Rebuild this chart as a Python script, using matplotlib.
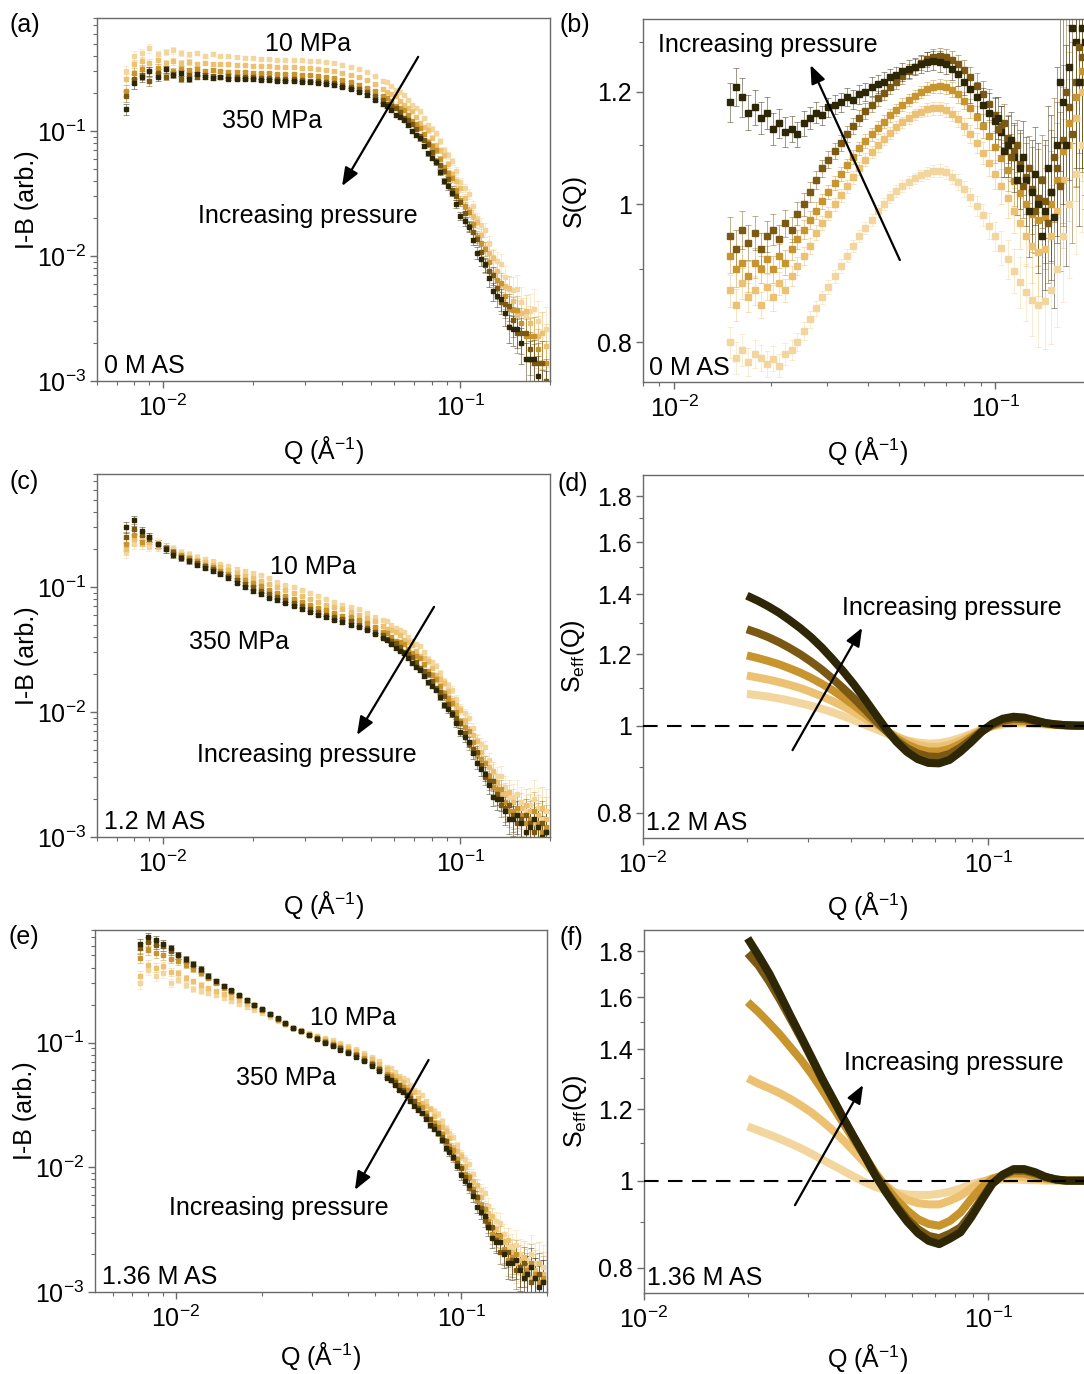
import numpy as np
import matplotlib
matplotlib.use("Agg")
import matplotlib.pyplot as plt
from matplotlib.colors import to_rgba
from matplotlib.ticker import (LogLocator, NullFormatter, FixedLocator,
                               FixedFormatter)

plt.rcParams['font.family'] = ['Liberation Sans', 'DejaVu Sans']
plt.rcParams['mathtext.fontset'] = 'custom'
plt.rcParams['mathtext.rm'] = 'Liberation Sans'
plt.rcParams['mathtext.it'] = 'Liberation Sans:italic'
plt.rcParams['mathtext.bf'] = 'Liberation Sans:bold'
plt.rcParams['mathtext.default'] = 'regular'

# ---------------- data ----------------
pressures = [10, 100, 200, 300, 350]          # MPa, light -> dark
colors = ['#F2D69E', '#ECC172', '#C8942E', '#7B5913', '#2E2706']

# SANS I-B(Q): main Q grid + extra high-Q points
q_sans = [0.0075, 0.0080, 0.0085, 0.0090, 0.0096, 0.0102, 0.0108, 0.0115, 0.0122, 0.0130,
          0.0138, 0.0147, 0.0156, 0.0166, 0.0177, 0.0188, 0.0200, 0.0213, 0.0227, 0.0242,
          0.0258, 0.0275, 0.0293, 0.0312, 0.0332, 0.0354, 0.0377, 0.0401, 0.0427, 0.0455,
          0.0485, 0.0516, 0.0550, 0.0586, 0.0624, 0.0664, 0.0707, 0.0753, 0.0802, 0.0854,
          0.0910, 0.0969, 0.1032, 0.1099, 0.1170, 0.1246, 0.1327, 0.1413, 0.1505, 0.1603,
          0.1707, 0.1818, 0.1936]
rel_err_sans = [0.10, 0.09, 0.08, 0.08, 0.07, 0.06, 0.06, 0.05, 0.05, 0.04,
                0.04, 0.035, 0.03, 0.03, 0.03, 0.025, 0.025, 0.025, 0.02, 0.02,
                0.02, 0.02, 0.02, 0.02, 0.02, 0.02, 0.02, 0.02, 0.02, 0.02,
                0.02, 0.02, 0.025, 0.025, 0.03, 0.03, 0.035, 0.04, 0.045, 0.05,
                0.06, 0.07, 0.08, 0.10, 0.12, 0.15, 0.18, 0.22, 0.27, 0.32,
                0.38, 0.45, 0.50]
q_sans_hi = [0.0568, 0.0605, 0.0644, 0.0685, 0.0730, 0.0777, 0.0828, 0.0882, 0.0939, 0.1000,
             0.1065, 0.1134, 0.1208, 0.1286, 0.1370, 0.1459, 0.1554, 0.1655, 0.1762, 0.1877]
rel_err_hi = [0.025, 0.028, 0.03, 0.033, 0.037, 0.042, 0.048, 0.055, 0.065, 0.075,
              0.09, 0.11, 0.13, 0.16, 0.20, 0.25, 0.30, 0.35, 0.42, 0.48]

# 0 M AS
iq_0M = [
    [0.30, 0.40, 0.42, 0.46, 0.41, 0.43, 0.44, 0.42, 0.41, 0.42,
     0.40, 0.41, 0.40, 0.395, 0.39, 0.385, 0.38, 0.378, 0.375, 0.372,
     0.370, 0.368, 0.366, 0.364, 0.360, 0.355, 0.348, 0.338, 0.326, 0.311,
     0.294, 0.275, 0.253, 0.229, 0.204, 0.178, 0.152, 0.127, 0.104, 0.083,
     0.064, 0.048, 0.035, 0.025, 0.0178, 0.0126, 0.0091, 0.0068, 0.0053, 0.0043,
     0.0036, 0.0030, 0.0026],
    [0.26, 0.34, 0.36, 0.35, 0.37, 0.35, 0.36, 0.35, 0.355, 0.345,
     0.35, 0.345, 0.34, 0.34, 0.337, 0.335, 0.333, 0.331, 0.329, 0.327,
     0.325, 0.323, 0.321, 0.318, 0.314, 0.309, 0.302, 0.293, 0.282, 0.269,
     0.254, 0.237, 0.218, 0.197, 0.175, 0.152, 0.130, 0.108, 0.088, 0.070,
     0.054, 0.040, 0.029, 0.021, 0.0148, 0.0105, 0.0076, 0.0057, 0.0044, 0.0035,
     0.0029, 0.0023, 0.0019],
    [0.21, 0.29, 0.31, 0.30, 0.32, 0.31, 0.30, 0.315, 0.305, 0.31,
     0.30, 0.305, 0.30, 0.298, 0.296, 0.295, 0.293, 0.291, 0.289, 0.287,
     0.285, 0.283, 0.281, 0.278, 0.275, 0.270, 0.264, 0.256, 0.246, 0.235,
     0.222, 0.207, 0.190, 0.172, 0.153, 0.133, 0.113, 0.094, 0.076, 0.060,
     0.046, 0.034, 0.025, 0.018, 0.0126, 0.0089, 0.0064, 0.0048, 0.0037, 0.0029,
     0.0023, 0.0018, 0.0014],
    [0.19, 0.26, 0.28, 0.25, 0.29, 0.27, 0.285, 0.26, 0.28, 0.27,
     0.28, 0.275, 0.272, 0.275, 0.27, 0.27, 0.268, 0.266, 0.264, 0.262,
     0.260, 0.258, 0.256, 0.253, 0.250, 0.246, 0.241, 0.234, 0.226, 0.216,
     0.204, 0.191, 0.176, 0.159, 0.141, 0.122, 0.103, 0.085, 0.068, 0.053,
     0.041, 0.030, 0.022, 0.0155, 0.0108, 0.0076, 0.0055, 0.0041, 0.0031, 0.0024,
     0.0018, 0.0014, 0.0010],
    [0.15, 0.24, 0.27, 0.30, 0.27, 0.31, 0.28, 0.29, 0.26, 0.285,
     0.27, 0.265, 0.268, 0.262, 0.262, 0.26, 0.258, 0.256, 0.255, 0.253,
     0.251, 0.249, 0.247, 0.244, 0.241, 0.237, 0.231, 0.224, 0.215, 0.204,
     0.192, 0.178, 0.163, 0.146, 0.129, 0.111, 0.093, 0.076, 0.061, 0.047,
     0.036, 0.026, 0.019, 0.0135, 0.0095, 0.0067, 0.0048, 0.0035, 0.0026, 0.0020,
     0.0015, 0.0011, 0.0008],
]
iq_0M_hi = [
    [0.245, 0.212, 0.195, 0.162, 0.143, 0.112, 0.096, 0.071, 0.057, 0.039,
     0.0314, 0.0198, 0.0162, 0.0098, 0.0087, 0.0054, 0.0054, 0.0034, 0.0038, 0.0024],
    [0.203, 0.190, 0.160, 0.144, 0.115, 0.101, 0.077, 0.064, 0.045, 0.035,
     0.0235, 0.0187, 0.0115, 0.0096, 0.0059, 0.0055, 0.0034, 0.0036, 0.0023, 0.0024],
    [0.185, 0.159, 0.146, 0.121, 0.106, 0.082, 0.070, 0.051, 0.042, 0.028,
     0.0225, 0.0142, 0.0114, 0.0070, 0.0061, 0.0038, 0.0037, 0.0023, 0.0023, 0.0014],
    [0.164, 0.153, 0.128, 0.114, 0.091, 0.078, 0.058, 0.048, 0.034, 0.027,
     0.0174, 0.0137, 0.0084, 0.0070, 0.0043, 0.0040, 0.0024, 0.0024, 0.0014, 0.0014],
    [0.157, 0.134, 0.122, 0.100, 0.087, 0.066, 0.056, 0.040, 0.032, 0.021,
     0.0170, 0.0106, 0.0086, 0.0052, 0.0045, 0.0027, 0.0026, 0.0015, 0.0015, 0.00083],
]

# 1.2 M AS
iq_12M = [
    [0.19, 0.22, 0.24, 0.21, 0.23, 0.20, 0.205, 0.19, 0.185, 0.175,
     0.168, 0.160, 0.152, 0.146, 0.140, 0.135, 0.130, 0.124, 0.117, 0.110,
     0.104, 0.099, 0.094, 0.089, 0.084, 0.080, 0.076, 0.072, 0.069, 0.066,
     0.062, 0.058, 0.054, 0.050, 0.045, 0.040, 0.035, 0.030, 0.025, 0.0205,
     0.0165, 0.0128, 0.0098, 0.0074, 0.0055, 0.0041, 0.0031, 0.0025, 0.0021, 0.0019,
     0.0018, 0.0017, 0.0016],
    [0.20, 0.24, 0.22, 0.23, 0.21, 0.20, 0.19, 0.18, 0.172, 0.165,
     0.157, 0.150, 0.143, 0.136, 0.129, 0.123, 0.117, 0.111, 0.105, 0.099,
     0.094, 0.089, 0.085, 0.080, 0.076, 0.072, 0.069, 0.066, 0.063, 0.060,
     0.056, 0.053, 0.049, 0.045, 0.041, 0.036, 0.031, 0.027, 0.0225, 0.0183,
     0.0147, 0.0114, 0.0087, 0.0065, 0.0048, 0.0036, 0.0027, 0.0022, 0.0019, 0.0017,
     0.0016, 0.0015, 0.0014],
    [0.22, 0.26, 0.23, 0.25, 0.22, 0.21, 0.195, 0.18, 0.17, 0.16,
     0.151, 0.143, 0.135, 0.128, 0.120, 0.113, 0.107, 0.101, 0.095, 0.090,
     0.085, 0.080, 0.076, 0.072, 0.068, 0.065, 0.062, 0.059, 0.057, 0.054,
     0.051, 0.048, 0.044, 0.040, 0.036, 0.032, 0.028, 0.024, 0.0198, 0.0161,
     0.0129, 0.0100, 0.0076, 0.0057, 0.0042, 0.0031, 0.0024, 0.0019, 0.0016, 0.0015,
     0.0014, 0.0013, 0.0012],
    [0.25, 0.29, 0.26, 0.24, 0.22, 0.205, 0.19, 0.175, 0.165, 0.155,
     0.146, 0.138, 0.130, 0.122, 0.114, 0.106, 0.099, 0.093, 0.088, 0.083,
     0.078, 0.074, 0.070, 0.066, 0.063, 0.060, 0.057, 0.055, 0.053, 0.050,
     0.047, 0.044, 0.041, 0.037, 0.033, 0.029, 0.025, 0.0212, 0.0176, 0.0144,
     0.0115, 0.0089, 0.0068, 0.0051, 0.0038, 0.0028, 0.0022, 0.0017, 0.0015, 0.0014,
     0.0013, 0.0012, 0.0011],
    [0.30, 0.34, 0.28, 0.25, 0.22, 0.20, 0.18, 0.17, 0.16, 0.150,
     0.142, 0.134, 0.127, 0.118, 0.108, 0.099, 0.092, 0.087, 0.082, 0.078,
     0.074, 0.070, 0.066, 0.063, 0.060, 0.057, 0.054, 0.052, 0.050, 0.048,
     0.045, 0.042, 0.039, 0.035, 0.031, 0.027, 0.023, 0.0195, 0.0162, 0.0132,
     0.0105, 0.0082, 0.0063, 0.0047, 0.0035, 0.0026, 0.0020, 0.0016, 0.0014, 0.0013,
     0.0012, 0.0012, 0.0011],
]
iq_12M_hi = [
    [0.053, 0.0466, 0.0434, 0.0368, 0.0335, 0.0267, 0.0234, 0.0178, 0.0151, 0.0108,
     0.0090, 0.0060, 0.0052, 0.0033, 0.0031, 0.0021, 0.0022, 0.0016, 0.0020, 0.0014],
    [0.046, 0.0439, 0.0377, 0.0342, 0.0281, 0.0254, 0.0197, 0.0170, 0.0125, 0.0104,
     0.0071, 0.0059, 0.0039, 0.0034, 0.0022, 0.0023, 0.0016, 0.0018, 0.0013, 0.0017],
    [0.0428, 0.0372, 0.0347, 0.0294, 0.0268, 0.0212, 0.0184, 0.0141, 0.0119, 0.0084,
     0.0070, 0.0046, 0.0039, 0.0025, 0.0024, 0.0016, 0.0017, 0.0013, 0.0016, 0.0011],
    [0.0382, 0.0357, 0.0304, 0.0275, 0.0224, 0.0200, 0.0155, 0.0133, 0.0098, 0.0081,
     0.0055, 0.0048, 0.0030, 0.0028, 0.0018, 0.0018, 0.0013, 0.0015, 0.0011, 0.0013],
    [0.0377, 0.0323, 0.0296, 0.0245, 0.0218, 0.0173, 0.0151, 0.0114, 0.0097, 0.0069,
     0.0058, 0.0039, 0.0032, 0.0021, 0.0020, 0.0014, 0.0015, 0.0011, 0.0014, 0.0010],
]

# 1.36 M AS
iq_136M = [
    [0.30, 0.38, 0.34, 0.36, 0.30, 0.32, 0.29, 0.27, 0.26, 0.25,
     0.24, 0.226, 0.214, 0.203, 0.193, 0.183, 0.172, 0.161, 0.150, 0.140,
     0.132, 0.126, 0.120, 0.114, 0.109, 0.104, 0.099, 0.094, 0.089, 0.083,
     0.077, 0.071, 0.064, 0.058, 0.052, 0.046, 0.040, 0.034, 0.0285, 0.0235,
     0.019, 0.0150, 0.0116, 0.0088, 0.0066, 0.0049, 0.0037, 0.0029, 0.0023, 0.0020,
     0.0018, 0.0017, 0.0016],
    [0.34, 0.42, 0.40, 0.41, 0.37, 0.36, 0.33, 0.31, 0.29, 0.275,
     0.26, 0.245, 0.231, 0.218, 0.205, 0.192, 0.179, 0.166, 0.153, 0.141,
     0.132, 0.125, 0.118, 0.112, 0.106, 0.101, 0.096, 0.091, 0.085, 0.080,
     0.074, 0.067, 0.061, 0.054, 0.048, 0.042, 0.036, 0.031, 0.026, 0.0212,
     0.0171, 0.0134, 0.0103, 0.0078, 0.0058, 0.0043, 0.0032, 0.0025, 0.0021, 0.0018,
     0.0016, 0.0015, 0.0014],
    [0.48, 0.55, 0.52, 0.50, 0.47, 0.45, 0.42, 0.39, 0.36, 0.33,
     0.30, 0.276, 0.255, 0.235, 0.216, 0.199, 0.184, 0.169, 0.155, 0.142,
     0.132, 0.124, 0.116, 0.109, 0.103, 0.097, 0.092, 0.086, 0.081, 0.075,
     0.069, 0.063, 0.056, 0.050, 0.044, 0.038, 0.032, 0.0275, 0.0228, 0.0186,
     0.0149, 0.0116, 0.0089, 0.0067, 0.0050, 0.0037, 0.0028, 0.0022, 0.0019, 0.0016,
     0.0015, 0.0014, 0.0013],
    [0.57, 0.64, 0.61, 0.59, 0.54, 0.50, 0.46, 0.42, 0.38, 0.34,
     0.31, 0.283, 0.260, 0.239, 0.219, 0.201, 0.185, 0.170, 0.156, 0.143,
     0.132, 0.123, 0.115, 0.108, 0.101, 0.095, 0.090, 0.084, 0.079, 0.073,
     0.067, 0.061, 0.054, 0.048, 0.042, 0.036, 0.030, 0.026, 0.0215, 0.0175,
     0.0140, 0.0109, 0.0083, 0.0063, 0.0047, 0.0035, 0.0026, 0.0021, 0.0018, 0.0016,
     0.0014, 0.0013, 0.0012],
    [0.62, 0.70, 0.66, 0.62, 0.57, 0.50, 0.47, 0.43, 0.39, 0.345,
     0.31, 0.285, 0.262, 0.240, 0.220, 0.202, 0.186, 0.171, 0.157, 0.143,
     0.132, 0.123, 0.115, 0.107, 0.100, 0.094, 0.088, 0.082, 0.077, 0.071,
     0.065, 0.059, 0.052, 0.046, 0.040, 0.034, 0.029, 0.0245, 0.0203, 0.0165,
     0.0132, 0.0103, 0.0078, 0.0059, 0.0044, 0.0033, 0.0025, 0.0020, 0.0017, 0.0015,
     0.0014, 0.0013, 0.0012],
]
iq_136M_hi = [
    [0.062, 0.054, 0.050, 0.042, 0.038, 0.030, 0.0268, 0.0206, 0.0176, 0.0127,
     0.0107, 0.0071, 0.0062, 0.0040, 0.0036, 0.0023, 0.0024, 0.0017, 0.0020, 0.0014],
    [0.056, 0.052, 0.044, 0.040, 0.0325, 0.0294, 0.0228, 0.0197, 0.0146, 0.0123,
     0.0085, 0.0072, 0.0046, 0.0041, 0.0025, 0.0026, 0.0017, 0.0019, 0.0013, 0.0017],
    [0.054, 0.046, 0.042, 0.034, 0.0306, 0.0243, 0.0212, 0.0162, 0.0137, 0.0098,
     0.0083, 0.0055, 0.0046, 0.0029, 0.0028, 0.0018, 0.0020, 0.0014, 0.0017, 0.0012],
    [0.050, 0.046, 0.038, 0.034, 0.0272, 0.0244, 0.0188, 0.0162, 0.0119, 0.0099,
     0.0068, 0.0058, 0.0038, 0.0033, 0.0021, 0.0021, 0.0015, 0.0017, 0.0012, 0.0014],
    [0.050, 0.042, 0.038, 0.031, 0.0275, 0.0217, 0.0190, 0.0144, 0.0122, 0.0086,
     0.0072, 0.0048, 0.0041, 0.0027, 0.0025, 0.0017, 0.0018, 0.0013, 0.0016, 0.0011],
]

# S(Q), 0 M AS
q_sq = [0.0149, 0.0156, 0.0163, 0.0170, 0.0178, 0.0186, 0.0194, 0.0203, 0.0212, 0.0222,
        0.0232, 0.0242, 0.0253, 0.0265, 0.0277, 0.0289, 0.0302, 0.0316, 0.0330, 0.0345,
        0.0361, 0.0377, 0.0394, 0.0412, 0.0431, 0.0450, 0.0471, 0.0492, 0.0514, 0.0538,
        0.0562, 0.0587, 0.0614, 0.0642, 0.0671, 0.0701, 0.0733, 0.0766, 0.0801, 0.0837,
        0.0875, 0.0915, 0.0956, 0.0999, 0.1045, 0.1092, 0.1141, 0.1193, 0.1247, 0.1303,
        0.1362, 0.1424, 0.1488, 0.1556, 0.1626, 0.1700, 0.1777, 0.1857, 0.1941]
err_sq = [0.025, 0.025, 0.025, 0.022, 0.022, 0.02, 0.02, 0.02, 0.018, 0.018,
          0.016, 0.015, 0.015, 0.014, 0.013, 0.012, 0.012, 0.012, 0.012, 0.012,
          0.012, 0.012, 0.012, 0.012, 0.012, 0.012, 0.012, 0.012, 0.012, 0.012,
          0.012, 0.012, 0.013, 0.013, 0.014, 0.014, 0.015, 0.016, 0.017, 0.018,
          0.02, 0.022, 0.025, 0.028, 0.032, 0.036, 0.04, 0.045, 0.05, 0.06,
          0.07, 0.08, 0.09, 0.10, 0.12, 0.14, 0.16, 0.18, 0.20]
err_scale_sq = [0.8, 0.9, 1.0, 1.2, 1.5]
sq_0M = [
    [0.80, 0.78, 0.79, 0.775, 0.785, 0.78, 0.772, 0.779, 0.77, 0.785,
     0.79, 0.80, 0.815, 0.83, 0.845, 0.86, 0.875, 0.89, 0.905, 0.92,
     0.935, 0.95, 0.962, 0.975, 0.99, 1.000, 1.012, 1.022, 1.030, 1.037,
     1.043, 1.048, 1.052, 1.055, 1.056, 1.053, 1.046, 1.037, 1.025, 1.012,
     0.998, 0.983, 0.966, 0.950, 0.932, 0.915, 0.898, 0.882, 0.868, 0.856,
     0.850, 0.855, 0.87, 0.90, 0.95, 1.00, 1.05, 1.10, 1.15],
    [0.87, 0.85, 0.88, 0.86, 0.87, 0.85, 0.875, 0.86, 0.88, 0.87,
     0.89, 0.905, 0.92, 0.935, 0.955, 0.97, 0.985, 1.00, 1.015, 1.03,
     1.045, 1.06, 1.075, 1.088, 1.10, 1.112, 1.123, 1.133, 1.142, 1.150,
     1.157, 1.162, 1.166, 1.168, 1.168, 1.165, 1.158, 1.148, 1.135, 1.120,
     1.104, 1.087, 1.069, 1.050, 1.030, 1.010, 0.99, 0.97, 0.95, 0.935,
     0.925, 0.93, 0.95, 0.99, 1.04, 1.10, 1.15, 1.20, 1.25],
    [0.92, 0.90, 0.91, 0.89, 0.91, 0.90, 0.915, 0.90, 0.92, 0.91,
     0.93, 0.945, 0.96, 0.975, 0.99, 1.005, 1.02, 1.035, 1.05, 1.065,
     1.08, 1.095, 1.108, 1.12, 1.132, 1.143, 1.155, 1.165, 1.175, 1.184,
     1.192, 1.20, 1.206, 1.21, 1.212, 1.21, 1.204, 1.195, 1.183, 1.168,
     1.152, 1.135, 1.117, 1.098, 1.078, 1.058, 1.038, 1.018, 1.00, 0.985,
     0.975, 0.98, 1.00, 1.04, 1.09, 1.14, 1.19, 1.24, 1.28],
    [0.95, 0.93, 0.96, 0.94, 0.955, 0.93, 0.95, 0.96, 0.945, 0.97,
     0.96, 0.985, 1.00, 1.02, 1.04, 1.06, 1.075, 1.09, 1.105, 1.12,
     1.135, 1.15, 1.163, 1.175, 1.187, 1.198, 1.21, 1.22, 1.23, 1.24,
     1.25, 1.258, 1.265, 1.27, 1.272, 1.27, 1.264, 1.255, 1.243, 1.228,
     1.212, 1.195, 1.176, 1.156, 1.135, 1.113, 1.09, 1.068, 1.045, 1.025,
     1.01, 1.005, 1.02, 1.06, 1.11, 1.17, 1.22, 1.27, 1.31],
    [1.18, 1.21, 1.19, 1.16, 1.17, 1.15, 1.16, 1.13, 1.14, 1.125,
     1.13, 1.12, 1.14, 1.15, 1.16, 1.155, 1.17, 1.175, 1.18, 1.19,
     1.185, 1.195, 1.20, 1.21, 1.215, 1.22, 1.228, 1.232, 1.24, 1.245,
     1.25, 1.255, 1.26, 1.262, 1.26, 1.255, 1.245, 1.235, 1.22, 1.205,
     1.19, 1.175, 1.16, 1.145, 1.125, 1.10, 1.08, 1.06, 1.04, 1.02,
     1.00, 0.99, 1.02, 1.10, 1.18, 1.25, 1.30, 1.33, 1.36],
]
# extra noisy high-Q points of the two darkest S(Q) sets
q_sq_hi = [0.1022, 0.1068, 0.1116, 0.1167, 0.1220, 0.1275, 0.1332, 0.1393, 0.1456, 0.1522,
           0.1591, 0.1663, 0.1738, 0.1817, 0.1899]
err_sq_hi = [0.026, 0.03, 0.034, 0.038, 0.043, 0.048, 0.055, 0.065, 0.075, 0.09,
             0.11, 0.13, 0.15, 0.17, 0.19]
sq_0M_hi_300 = [1.13, 1.14, 1.08, 1.10, 1.03, 1.06, 0.99, 1.04, 0.97, 1.08,
                1.03, 1.20, 1.12, 1.29, 1.22]
sq_0M_hi_350 = [1.15, 1.09, 1.11, 1.04, 1.08, 0.99, 1.05, 0.95, 1.06, 0.98,
                1.22, 1.10, 1.33, 1.22, 1.30]

# S_eff(Q) model curves
q_seff = [0.0200, 0.0215, 0.0231, 0.0248, 0.0266, 0.0286, 0.0307, 0.0330, 0.0354, 0.0380,
          0.0408, 0.0438, 0.0470, 0.0505, 0.0542, 0.0582, 0.0625, 0.0671, 0.0720, 0.0773,
          0.0830, 0.0891, 0.0957, 0.1027, 0.1103, 0.1184, 0.1271, 0.1365, 0.1465, 0.1573,
          0.1689, 0.1813, 0.1946]
seff_12M = [
    [1.085, 1.081, 1.077, 1.072, 1.066, 1.059, 1.052, 1.044, 1.035, 1.025,
     1.014, 1.003, 0.992, 0.981, 0.971, 0.963, 0.958, 0.955, 0.956, 0.961,
     0.969, 0.979, 0.990, 0.998, 1.003, 1.006, 1.006, 1.004, 1.003, 1.001,
     1.000, 1.000, 1.000],
    [1.137, 1.131, 1.125, 1.118, 1.110, 1.101, 1.090, 1.078, 1.065, 1.051,
     1.036, 1.020, 1.004, 0.988, 0.973, 0.961, 0.952, 0.947, 0.947, 0.952,
     0.962, 0.975, 0.989, 0.999, 1.006, 1.009, 1.009, 1.006, 1.004, 1.002,
     1.001, 1.000, 1.000],
    [1.197, 1.189, 1.180, 1.170, 1.158, 1.145, 1.130, 1.113, 1.095, 1.075,
     1.054, 1.032, 1.010, 0.988, 0.968, 0.953, 0.942, 0.936, 0.936, 0.942,
     0.954, 0.970, 0.987, 1.000, 1.009, 1.013, 1.012, 1.009, 1.005, 1.002,
     1.001, 1.000, 1.000],
    [1.280, 1.268, 1.254, 1.238, 1.220, 1.200, 1.178, 1.154, 1.128, 1.101,
     1.073, 1.044, 1.015, 0.988, 0.963, 0.944, 0.931, 0.924, 0.923, 0.930,
     0.945, 0.964, 0.985, 1.002, 1.013, 1.018, 1.017, 1.012, 1.006, 1.003,
     1.001, 1.000, 1.000],
    [1.395, 1.377, 1.357, 1.335, 1.310, 1.283, 1.254, 1.221, 1.186, 1.150,
     1.112, 1.072, 1.032, 0.993, 0.960, 0.935, 0.918, 0.909, 0.908, 0.916,
     0.935, 0.958, 0.984, 1.005, 1.018, 1.023, 1.021, 1.014, 1.007, 1.003,
     1.001, 1.000, 1.000],
]
seff_136M = [
    [1.149, 1.137, 1.125, 1.113, 1.100, 1.086, 1.071, 1.055, 1.040, 1.025,
     1.010, 0.996, 0.984, 0.975, 0.969, 0.965, 0.964, 0.964, 0.967, 0.972,
     0.980, 0.991, 0.998, 1.001, 1.003, 1.003, 1.002, 1.001, 1.000, 1.000,
     1.000, 1.000, 1.000],
    [1.300, 1.282, 1.267, 1.251, 1.233, 1.212, 1.190, 1.164, 1.137, 1.108,
     1.077, 1.046, 1.016, 0.987, 0.966, 0.952, 0.944, 0.941, 0.941, 0.950,
     0.962, 0.980, 0.996, 1.006, 1.011, 1.012, 1.009, 1.005, 1.003, 1.001,
     1.000, 1.000, 1.000],
    [1.580, 1.540, 1.497, 1.454, 1.408, 1.362, 1.313, 1.260, 1.207, 1.157,
     1.108, 1.064, 1.020, 0.983, 0.952, 0.926, 0.906, 0.895, 0.891, 0.902,
     0.922, 0.954, 0.983, 1.004, 1.015, 1.019, 1.018, 1.012, 1.006, 1.002,
     1.000, 1.000, 1.000],
    [1.790, 1.735, 1.665, 1.590, 1.515, 1.440, 1.366, 1.293, 1.231, 1.171,
     1.116, 1.065, 1.015, 0.973, 0.937, 0.906, 0.883, 0.868, 0.863, 0.873,
     0.887, 0.918, 0.955, 0.993, 1.014, 1.026, 1.026, 1.019, 1.009, 1.003,
     1.000, 1.000, 1.000],
    [1.860, 1.780, 1.700, 1.612, 1.527, 1.446, 1.370, 1.296, 1.233, 1.172,
     1.116, 1.064, 1.013, 0.970, 0.933, 0.900, 0.874, 0.857, 0.850, 0.862,
     0.876, 0.910, 0.951, 0.992, 1.016, 1.030, 1.030, 1.022, 1.010, 1.003,
     1.000, 1.000, 1.000],
]

# ---------------- figure ----------------
W, H = 1084.0, 1374.0
fig = plt.figure(figsize=(W / 100, H / 100), dpi=100)


def axes_px(l, t, r, b):
    return fig.add_axes([l / W, 1 - b / H, (r - l) / W, (b - t) / H])


FS_TICK = 18
FS_TXT = 18
SPINE = '#6a6a6a'


def frame(ax, xlim, ylim):
    ax.set_xscale('log')
    ax.set_yscale('log')
    ax.set_xlim(xlim)
    ax.set_ylim(ylim)
    for sp in ax.spines.values():
        sp.set_color(SPINE)
        sp.set_linewidth(1.0)
    ax.tick_params(which='both', direction='out', top=False, right=False,
                   color=SPINE, labelsize=FS_TICK)
    ax.tick_params(which='major', length=5, width=1.0)
    ax.tick_params(which='minor', length=3, width=0.8)
    ax.tick_params(axis='x', pad=5)
    ax.tick_params(axis='y', pad=3)
    ax.xaxis.set_major_locator(LogLocator(10, numticks=20))
    ax.xaxis.set_minor_locator(LogLocator(10, subs=np.arange(2, 10), numticks=20))
    ax.xaxis.set_minor_formatter(NullFormatter())
    ax.set_xlabel(r'Q ($\mathrm{\AA}^{-1}$)', fontsize=FS_TICK, va='center')
    ax.xaxis.set_label_coords(0.5, -0.19)


def points(ax, q, y, err, c, ms):
    ax.errorbar(q, y, yerr=err, fmt='s', ms=ms, color=c, mec=c,
                ecolor=to_rgba(c, 0.55), elinewidth=0.6, capsize=2.0,
                capthick=0.6)


def sans_panel(ax, series, series_hi, label, xlim):
    frame(ax, xlim, (1e-3, 0.8))
    ax.yaxis.set_major_locator(LogLocator(10, numticks=20))
    ax.yaxis.set_minor_locator(LogLocator(10, subs=np.arange(2, 10), numticks=20))
    ax.yaxis.set_minor_formatter(NullFormatter())
    q = np.array(q_sans)
    qh = np.array(q_sans_hi)
    for c, iq, iqh in zip(colors, series, series_hi):
        iq = np.array(iq)
        iqh = np.array(iqh)
        points(ax, q, iq, iq * np.array(rel_err_sans), c, 3.4)
        points(ax, qh, iqh, iqh * np.array(rel_err_hi), c, 3.4)
    ax.set_ylabel('I-B (arb.)', fontsize=FS_TICK, va='center')
    ax.yaxis.set_label_coords(-0.155, 0.5)
    ax.text(0.015, 0.041, label, transform=ax.transAxes, fontsize=FS_TXT,
            ha='left', va='center')


def s_ticks(ax, majors, minors):
    ax.yaxis.set_major_locator(FixedLocator(majors))
    ax.yaxis.set_major_formatter(FixedFormatter(
        ['1' if m == 1.0 else f'{m:g}' for m in majors]))
    ax.yaxis.set_minor_locator(FixedLocator(minors))
    ax.yaxis.set_minor_formatter(NullFormatter())


def arrow(ax, tail, head):
    ax.annotate('', xy=head, xytext=tail, xycoords='axes fraction',
                textcoords='axes fraction',
                arrowprops=dict(arrowstyle='-|>,head_length=0.55,head_width=0.22',
                                lw=1.6, color='black', shrinkA=0, shrinkB=0,
                                mutation_scale=20))


def txt(ax, x, y, s):
    ax.text(x, y, s, transform=ax.transAxes, fontsize=FS_TXT,
            ha='center', va='center')


# (a) 0 M AS SANS
ax_a = axes_px(97, 18, 550, 381)
sans_panel(ax_a, iq_0M, iq_0M_hi, '0 M AS', (0.006, 0.2))
txt(ax_a, 0.466, 0.928, '10 MPa')
txt(ax_a, 0.386, 0.716, '350 MPa')
txt(ax_a, 0.466, 0.455, 'Increasing pressure')
arrow(ax_a, (0.709, 0.893), (0.541, 0.537))

# (c) 1.2 M AS SANS
ax_c = axes_px(97, 474, 550, 837)
sans_panel(ax_c, iq_12M, iq_12M_hi, '1.2 M AS', (0.006, 0.2))
ax_c.xaxis.set_label_coords(0.5, -0.187)
txt(ax_c, 0.476, 0.744, '10 MPa')
txt(ax_c, 0.313, 0.537, '350 MPa')
txt(ax_c, 0.464, 0.226, 'Increasing pressure')
arrow(ax_c, (0.744, 0.634), (0.574, 0.281))

# (e) 1.36 M AS SANS
ax_e = axes_px(95, 930, 547, 1292)
sans_panel(ax_e, iq_136M, iq_136M_hi, '1.36 M AS', (0.0052, 0.2))
ax_e.xaxis.set_label_coords(0.5, -0.178)
txt(ax_e, 0.572, 0.757, '10 MPa')
txt(ax_e, 0.422, 0.591, '350 MPa')
txt(ax_e, 0.406, 0.232, 'Increasing pressure')
arrow(ax_e, (0.738, 0.641), (0.575, 0.282))

# (b) S(Q) 0 M AS
ax_b = axes_px(643, 19, 1092, 382)
frame(ax_b, (0.008, 0.2), (0.75, 1.35))
s_ticks(ax_b, [0.8, 1.0, 1.2], [0.9, 1.1, 1.3])
qb = np.array(q_sq)
for c, sq, k in zip(colors, sq_0M, err_scale_sq):
    points(ax_b, qb, sq, np.array(err_sq) * k, c, 3.8)
for c, sq, k in [(colors[3], sq_0M_hi_300, err_scale_sq[3]),
                 (colors[4], sq_0M_hi_350, err_scale_sq[4])]:
    points(ax_b, np.array(q_sq_hi), sq, np.array(err_sq_hi) * k, c, 3.8)
ax_b.set_ylabel('S(Q)', fontsize=FS_TICK, va='center')
ax_b.yaxis.set_label_coords(-0.155, 0.5)
ax_b.text(0.013, 0.039, '0 M AS', transform=ax_b.transAxes, fontsize=FS_TXT,
          ha='left', va='center')
txt(ax_b, 0.278, 0.928, 'Increasing pressure')
arrow(ax_b, (0.572, 0.336), (0.373, 0.873))


def seff_panel(ax, curves, label):
    frame(ax, (0.01, 0.2), (0.75, 1.9))
    s_ticks(ax, [0.8, 1.0, 1.2, 1.4, 1.6, 1.8], [0.9, 1.1, 1.3, 1.5, 1.7])
    for c, s in zip(colors, curves):
        ax.plot(q_seff, s, color=c, lw=5.8, solid_capstyle='butt',
                solid_joinstyle='round')
    ax.axhline(1.0, color='black', lw=1.5, ls=(0, (7, 4.5)), zorder=5)
    ax.set_ylabel(r'S$_{\mathrm{eff}}$(Q)', fontsize=FS_TICK, va='center')
    ax.yaxis.set_label_coords(-0.155, 0.5)
    ax.text(0.007, 0.041, label, transform=ax.transAxes, fontsize=FS_TXT,
            ha='left', va='center')


# (d) S_eff 1.2 M AS
ax_d = axes_px(643, 475, 1092, 838)
seff_panel(ax_d, seff_12M, '1.2 M AS')
ax_d.xaxis.set_label_coords(0.5, -0.187)
txt(ax_d, 0.688, 0.634, 'Increasing pressure')
arrow(ax_d, (0.333, 0.242), (0.488, 0.579))

# (f) S_eff 1.36 M AS
ax_f = axes_px(644, 930, 1092, 1293)
seff_panel(ax_f, seff_136M, '1.36 M AS')
ax_f.xaxis.set_label_coords(0.5, -0.178)
txt(ax_f, 0.692, 0.634, 'Increasing pressure')
arrow(ax_f, (0.337, 0.242), (0.489, 0.573))

# panel letters
for s, x, y in [('(a)', 25, 25), ('(b)', 575, 25), ('(c)', 24, 482),
                ('(d)', 573, 484), ('(e)', 24, 937), ('(f)', 571, 938)]:
    fig.text(x / W, 1 - y / H, s, fontsize=FS_TICK, ha='center', va='center')

fig.savefig('out.png', dpi=100)
